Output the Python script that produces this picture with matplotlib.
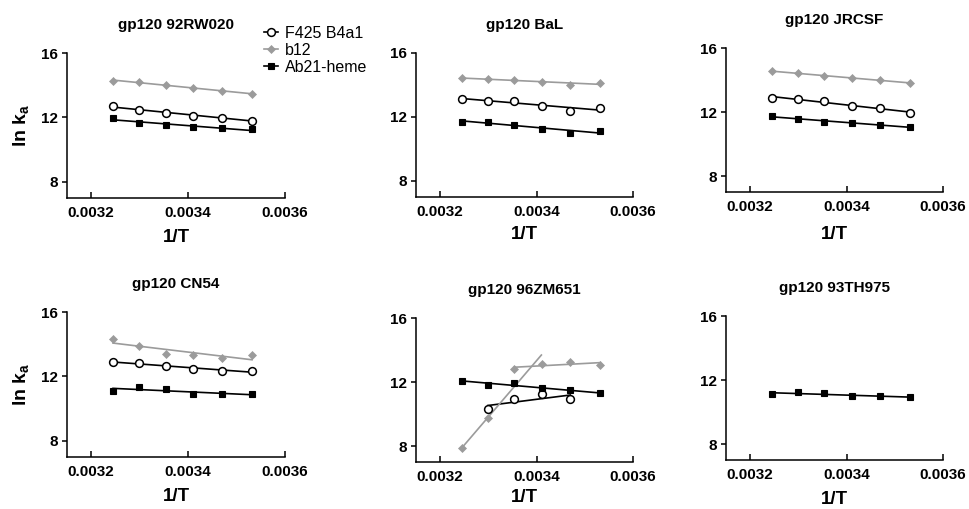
import numpy as np
import matplotlib
matplotlib.use("Agg")
import matplotlib.pyplot as plt
from matplotlib.lines import Line2D

plt.rcParams['font.family'] = ['Liberation Sans', 'DejaVu Sans']
plt.rcParams['mathtext.fontset'] = 'custom'
plt.rcParams['mathtext.rm'] = 'Liberation Sans:bold'
plt.rcParams['mathtext.it'] = 'Liberation Sans:bold'
plt.rcParams['mathtext.bf'] = 'Liberation Sans:bold'

# ---------------- data ----------------
inv_T = [0.003245, 0.003299, 0.003354, 0.003411, 0.003470, 0.003532]

titles = ["gp120 92RW020", "gp120 BaL", "gp120 JRCSF",
          "gp120 CN54", "gp120 96ZM651", "gp120 93TH975"]
series_names = ["F425 B4a1", "b12", "Ab21-heme"]

nan = np.nan
f425_92RW020 = [12.70, 12.47, 12.25, 12.12, 11.98, 11.81]
b12_92RW020 = [14.29, 14.19, 14.02, 13.81, 13.63, 13.48]
ab21_92RW020 = [11.98, 11.65, 11.53, 11.42, 11.32, 11.26]

f425_BaL = [13.15, 13.03, 12.99, 12.66, 12.39, 12.58]
b12_BaL = [14.45, 14.39, 14.29, 14.16, 14.02, 14.14]
ab21_BaL = [11.71, 11.71, 11.53, 11.24, 10.99, 11.13]

f425_JRCSF = [12.90, 12.79, 12.69, 12.40, 12.23, 11.94]
b12_JRCSF = [14.54, 14.44, 14.27, 14.11, 13.98, 13.82]
ab21_JRCSF = [11.75, 11.54, 11.40, 11.33, 11.21, 11.04]

f425_CN54 = [12.89, 12.83, 12.66, 12.48, 12.31, 12.35]
b12_CN54 = [14.34, 13.86, 13.39, 13.35, 13.14, 13.31]
ab21_CN54 = [11.11, 11.36, 11.23, 10.90, 10.90, 10.90]

f425_96ZM651 = [nan, 10.30, 10.95, 11.22, 10.95, nan]
b12_96ZM651 = [7.88, 9.78, 12.80, 13.11, 13.28, 13.07]
ab21_96ZM651 = [12.08, 11.82, 11.92, 11.61, 11.47, 11.30]
# b12 on 96ZM651 is fitted in two segments (point indices), first one extended
b12_96ZM651_segments = [[0, 1], [2, 3, 4, 5]]
b12_96ZM651_seg1_end = 0.00341

f425_93TH975 = [nan] * 6
b12_93TH975 = [nan] * 6
ab21_93TH975 = [11.11, 11.26, 11.16, 10.97, 10.99, 10.93]

panel_data = [
    (f425_92RW020, b12_92RW020, ab21_92RW020),
    (f425_BaL, b12_BaL, ab21_BaL),
    (f425_JRCSF, b12_JRCSF, ab21_JRCSF),
    (f425_CN54, b12_CN54, ab21_CN54),
    (f425_96ZM651, b12_96ZM651, ab21_96ZM651),
    (f425_93TH975, b12_93TH975, ab21_93TH975),
]

x_ticks = [0.0032, 0.0034, 0.0036]
y_ticks = [8, 12, 16]

# ---------------- style ----------------
GRAY = '#9b9b9b'
styles = [
    dict(marker='o', mfc='white', mec='black', color='black', ms=5.6, mew=1.1),
    dict(marker='D', mfc=GRAY, mec=GRAY, color=GRAY, ms=4.2, mew=0.5),
    dict(marker='s', mfc='black', mec='black', color='black', ms=5.0, mew=0.8),
]

W, H = 969, 509
fig = plt.figure(figsize=(W / 100, H / 100), dpi=100)

# axes boxes in pixels: left, right, top, bottom
boxes = [
    (67, 285, 53, 198),
    (416, 633, 53, 197),
    (726, 943, 48, 192),
    (67, 285, 312, 457),
    (416, 633, 318, 462),
    (726, 943, 316, 460),
]
xlabel_pads = [7, 5, 9, 7, 3.5, 7]

x = np.array(inv_T)


def fit_line(ax, xs, ys, color, x0=None, x1=None):
    xs = np.asarray(xs)
    ys = np.asarray(ys)
    m = ~np.isnan(ys)
    if m.sum() < 2:
        return
    p = np.polyfit(xs[m], ys[m], 1)
    a = xs[m].min() if x0 is None else x0
    b = xs[m].max() if x1 is None else x1
    xx = np.array([a, b])
    ax.plot(xx, np.polyval(p, xx), color=color, lw=1.2, zorder=2)


axes = []
for i, (l, r, t, b) in enumerate(boxes):
    ax = fig.add_axes([l / W, 1 - b / H, (r - l) / W, (b - t) / H])
    axes.append(ax)
    data = panel_data[i]
    for j, ys in enumerate(data):
        ys = np.array(ys, dtype=float)
        st = styles[j]
        if np.all(np.isnan(ys)):
            continue
        if i == 4 and j == 1:
            segs = b12_96ZM651_segments
            idx0 = np.array(segs[0])
            fit_line(ax, x[idx0], ys[idx0], st['color'], x1=b12_96ZM651_seg1_end)
            idx1 = np.array(segs[1])
            fit_line(ax, x[idx1], ys[idx1], st['color'])
        else:
            fit_line(ax, x, ys, st['color'])
        ax.plot(x, ys, ls='none', marker=st['marker'], mfc=st['mfc'],
                mec=st['mec'], ms=st['ms'], mew=st['mew'], zorder=3)

    ax.set_xlim(0.00315, 0.0036)
    ax.set_ylim(7, 16)
    ax.set_xticks(x_ticks)
    ax.set_xticklabels([f"{v:.4f}" for v in x_ticks])
    ax.set_yticks(y_ticks)
    for s in ['top', 'right']:
        ax.spines[s].set_visible(False)
    for s in ['left', 'bottom']:
        ax.spines[s].set_linewidth(1.1)
    ax.tick_params(axis='x', direction='in', length=4, width=1.1, pad=5.5,
                   labelsize=11)
    ax.tick_params(axis='y', direction='out', length=3.5, width=1.1, pad=3,
                   labelsize=11)
    for lab in ax.get_xticklabels() + ax.get_yticklabels():
        lab.set_fontweight('bold')
    ax.set_title(titles[i], fontsize=11, fontweight='bold', pad=17)
    ax.set_xlabel('1/T', fontsize=13.5, fontweight='bold',
                  labelpad=xlabel_pads[i])
    if i in (0, 3):
        ax.set_ylabel(r'ln k$_\mathrm{a}$', fontsize=14, fontweight='bold',
                      labelpad=7)

handles = [Line2D([0], [0], color=st['color'], lw=1.2, marker=st['marker'],
                  mfc=st['mfc'], mec=st['mec'], ms=st['ms'], mew=st['mew'])
           for st in styles]
fig.legend(handles, series_names, loc='upper left',
           bbox_to_anchor=(264 / W, 1 - 26 / H), frameon=False,
           fontsize=11.5, handlelength=0.85, handletextpad=0.45,
           labelspacing=0.12, borderpad=0, borderaxespad=0)

fig.savefig('out.png', dpi=100)
